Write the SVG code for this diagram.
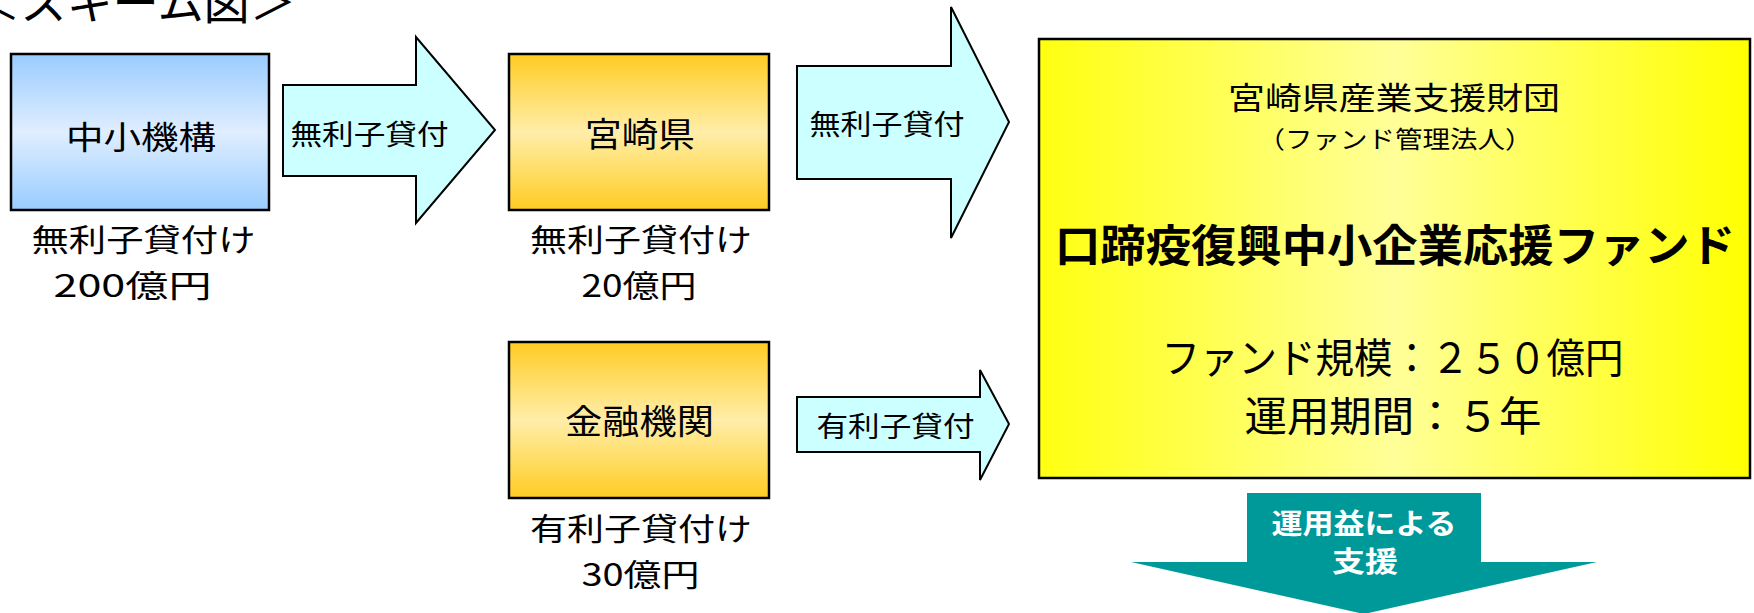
<svg xmlns="http://www.w3.org/2000/svg" width="1754" height="613" viewBox="0 0 1754 613">
<defs>
<linearGradient id="gBlue" x1="0" y1="0" x2="0" y2="1">
<stop offset="0" stop-color="#99CCFF"/><stop offset="0.5" stop-color="#E0EEFF"/><stop offset="1" stop-color="#99CCFF"/>
</linearGradient>
<linearGradient id="gGold" x1="0" y1="0" x2="0" y2="1">
<stop offset="0" stop-color="#FFCC22"/><stop offset="0.5" stop-color="#FFEEAA"/><stop offset="1" stop-color="#FFCC22"/>
</linearGradient>
<linearGradient id="gYellow" x1="0" y1="0" x2="1" y2="0">
<stop offset="0" stop-color="#FFFF11"/><stop offset="0.5" stop-color="#FFFF99"/><stop offset="1" stop-color="#FFFF00"/>
</linearGradient>
</defs>
<style>
text{font-family:"Noto Sans CJK JP","Liberation Sans",sans-serif;fill:#000}
.box{stroke:#000;stroke-width:2.5}
.arr{fill:#CCFFFF;stroke:#000;stroke-width:2}
.c{text-anchor:middle}
.w{fill:#fff;font-weight:bold}
</style>
<rect width="1754" height="613" fill="#fff"/>
<text id="title" x="-26" y="19" font-size="46" textLength="322" lengthAdjust="spacingAndGlyphs">＜スキーム図＞</text>
<g id="connectors">
<polygon class="arr" points="283,85 416,85 416,37 495,130 416,223 416,176 283,176"/>
<text class="c" x="369.5" y="144.5" font-size="28" textLength="158" lengthAdjust="spacingAndGlyphs">無利子貸付</text>
<polygon class="arr" points="797,66 951,66 951,7 1009,122 951,238 951,179 797,179"/>
<text class="c" x="887" y="134.5" font-size="28" textLength="155" lengthAdjust="spacingAndGlyphs">無利子貸付</text>
<polygon class="arr" points="797,397 980,397 980,370 1009,424 980,480 980,452 797,452"/>
<text class="c" x="895.5" y="436.5" font-size="28" textLength="158" lengthAdjust="spacingAndGlyphs">有利子貸付</text>
<polygon fill="#009999" points="1247,493 1481,493 1481,562 1597,562 1364,614 1131,562 1247,562"/>
<text class="c w" x="1364" y="533.5" font-size="28" textLength="185" lengthAdjust="spacingAndGlyphs">運用益による</text>
<text class="c w" x="1365" y="571.5" font-size="28" textLength="66" lengthAdjust="spacingAndGlyphs">支援</text>
</g>
<g id="smrj">
<rect class="box" x="11" y="54" width="258" height="156" fill="url(#gBlue)"/>
<text class="c" x="141" y="148.5" font-size="32" textLength="150" lengthAdjust="spacingAndGlyphs">中小機構</text>
<text class="c" x="143.5" y="251" font-size="31" textLength="224" lengthAdjust="spacingAndGlyphs">無利子貸付け</text>
<text class="c" x="132.5" y="297" font-size="31" textLength="158" lengthAdjust="spacingAndGlyphs">200億円</text>
</g>
<g id="miyazaki">
<rect class="box" x="509" y="54" width="260" height="156" fill="url(#gGold)"/>
<text class="c" x="640" y="147" font-size="34" textLength="110" lengthAdjust="spacingAndGlyphs">宮崎県</text>
<text class="c" x="641" y="251" font-size="31" textLength="222" lengthAdjust="spacingAndGlyphs">無利子貸付け</text>
<text class="c" x="639" y="297" font-size="31" textLength="115" lengthAdjust="spacingAndGlyphs">20億円</text>
</g>
<g id="bank">
<rect class="box" x="509" y="342" width="260" height="156" fill="url(#gGold)"/>
<text class="c" x="639.5" y="434" font-size="34" textLength="149" lengthAdjust="spacingAndGlyphs">金融機関</text>
<text class="c" x="641" y="540" font-size="31" textLength="222" lengthAdjust="spacingAndGlyphs">有利子貸付け</text>
<text class="c" x="640.5" y="586" font-size="31" textLength="118" lengthAdjust="spacingAndGlyphs">30億円</text>
</g>
<g id="fund">
<rect class="box" x="1039" y="39" width="711" height="439" fill="url(#gYellow)"/>
<text class="c" x="1394" y="108.5" font-size="31" textLength="332" lengthAdjust="spacingAndGlyphs">宮崎県産業支援財団</text>
<text class="c" x="1395" y="148" font-size="24" textLength="275" lengthAdjust="spacingAndGlyphs">（ファンド管理法人）</text>
<text class="c" x="1395" y="261.5" font-size="44" font-weight="bold" textLength="680" lengthAdjust="spacingAndGlyphs">口蹄疫復興中小企業応援ファンド</text>
<text class="c" x="1392.5" y="373" font-size="41" textLength="462" lengthAdjust="spacingAndGlyphs">ファンド規模：２５０億円</text>
<text class="c" x="1393" y="431" font-size="41" textLength="297" lengthAdjust="spacingAndGlyphs">運用期間：５年</text>
</g>
</svg>
